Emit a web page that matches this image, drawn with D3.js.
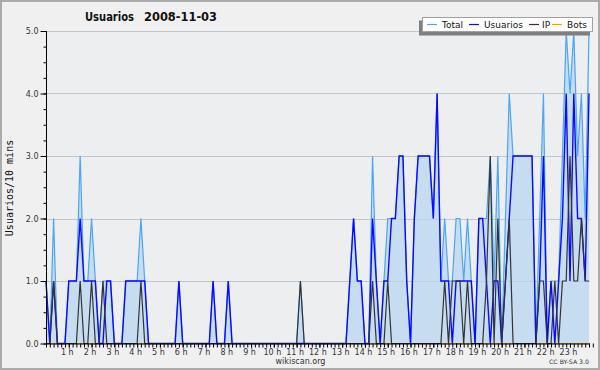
<!DOCTYPE html>
<html><head><meta charset="utf-8">
<script src="https://cdn.jsdelivr.net/npm/d3@7"></script>
<style>body{margin:0;background:#f0f0f0}svg{display:block}</style>
</head><body><svg id="c" width="600" height="370"></svg>
<script>
// 10-minute intervals, 144 per day
const total = [
 1,0,2,0,0,0,1,1,1,3,1,1,
 2,1,0,1,1,1,0,0,0,1,1,1,
 1,2,1,0,0,0,0,0,0,0,0,1,
 0,0,0,0,0,0,0,0,1,0,0,0,
 1,0,0,0,0,0,0,0,0,0,0,0,
 0,0,0,0,0,0,0,1,0,0,0,0,
 0,0,0,0,0,0,0,0,1,2,1,1,
 0,0,3,1,0,1,2,2,2,3,3,1,
 0,2,3,3,3,3,2,4,1,2,1,1,
 2,2,1,2,1,0,2,2,2,3,1,3,
 0,2,4,3,3,3,3,3,3,0,2,4,
 0,1,1,1,3,5,4,5,3,4,2,5];
const usuarios = [
 1,0,1,0,0,0,1,1,1,2,1,1,
 1,1,0,0,1,1,0,0,0,1,1,1,
 1,1,1,0,0,0,0,0,0,0,0,1,
 0,0,0,0,0,0,0,0,1,0,0,0,
 1,0,0,0,0,0,0,0,0,0,0,0,
 0,0,0,0,0,0,0,0,0,0,0,0,
 0,0,0,0,0,0,0,0,1,2,1,1,
 0,0,2,1,0,1,1,2,2,3,3,1,
 0,2,3,3,3,3,2,4,1,1,1,0,
 1,1,1,1,1,0,2,2,1,0,1,1,
 0,1,2,3,3,3,3,3,3,0,1,3,
 0,1,0,1,2,4,1,4,2,2,1,4];
const ip = [
 0,0,1,0,0,0,0,0,0,1,0,0,
 1,0,0,1,0,0,0,0,0,0,0,0,
 0,1,0,0,0,0,0,0,0,0,0,0,
 0,0,0,0,0,0,0,0,0,0,0,0,
 0,0,0,0,0,0,0,0,0,0,0,0,
 0,0,0,0,0,0,0,1,0,0,0,0,
 0,0,0,0,0,0,0,0,0,0,0,0,
 0,0,1,0,0,0,1,0,0,0,0,0,
 0,0,0,0,0,0,0,0,0,1,0,1,
 1,1,0,1,0,0,0,0,1,3,0,2,
 0,1,2,0,0,0,0,0,0,0,1,1,
 0,0,1,0,1,1,3,1,1,2,1,1];
const bots = [
 0,0,0,0,0,0,0,0,0,0,0,0, 0,0,0,0,0,0,0,0,0,0,0,0,
 0,0,0,0,0,0,0,0,0,0,0,0, 0,0,0,0,0,0,0,0,0,0,0,0,
 0,0,0,0,0,0,0,0,0,0,0,0, 0,0,0,0,0,0,0,0,0,0,0,0,
 0,0,0,0,0,0,0,0,0,0,0,0, 0,0,0,0,0,0,0,0,0,0,0,0,
 0,0,0,0,0,0,0,0,0,0,0,0, 0,0,0,0,0,0,0,0,0,0,0,0,
 0,0,0,0,0,0,0,0,0,0,0,0, 0,0,0,0,0,0,0,0,0,0,0,0];
const hourLabels = ["1 h","2 h","3 h","4 h","5 h","6 h","7 h","8 h","9 h","10 h","11 h","12 h",
 "13 h","14 h","15 h","16 h","17 h","18 h","19 h","20 h","21 h","22 h","23 h"];
const yTicks = [0,1,2,3,4,5];
const seriesNames = ["Total","Usuarios","IP","Bots"];
const titleText = "Usuarios", dateText = "2008-11-03";

const svg = d3.select("#c");
const W = 600, H = 370;
const L = 46, R = 589, T = 31, B = 343.5;
const x = d3.scaleLinear().domain([0, 143]).range([L, R]);
const y = d3.scaleLinear().domain([0, 5]).range([B, T]);
const sans = "'DejaVu Sans', Verdana, sans-serif";

svg.append("rect").attr("x",1).attr("y",1).attr("width",W-2).attr("height",H-2)
  .attr("fill","#f0f0f0").attr("stroke","#ababab").attr("stroke-width",2);
svg.append("rect").attr("x",L).attr("y",T).attr("width",590-L).attr("height",B-T).attr("fill","#eceef0");

// grid
svg.append("g").selectAll("line").data(yTicks.filter(d=>d>0)).join("line")
  .attr("x1",L).attr("x2",590).attr("y1",d=>Math.round(y(d))+0.5).attr("y2",d=>Math.round(y(d))+0.5)
  .attr("stroke","#c8c8c8").attr("stroke-width",1);

const idx = d3.range(total.length);
// area under total
svg.append("path").datum(idx)
  .attr("d", d3.area().x(i=>x(i)).y0(B).y1(i=>y(total[i])))
  .attr("fill","#c6ddf1");
// grid over fill (faint)
svg.append("g").selectAll("line").data(yTicks.filter(d=>d>0)).join("line")
  .attr("x1",L).attr("x2",590).attr("y1",d=>Math.round(y(d))+0.5).attr("y2",d=>Math.round(y(d))+0.5)
  .attr("stroke","#b9c6d2").attr("stroke-width",1).attr("opacity",0.5);

const colors = ["#4ca5f5","#0a0aff","#333333","#ff9900"];
const data = [total, usuarios, ip, bots];
const lineGen = arr => d3.line().x(i=>x(i)).y(i=>y(arr[i]))(idx);
[3,0,1,2].forEach(k=>{
  svg.append("path").attr("d", lineGen(data[k])).attr("fill","none")
    .attr("stroke",colors[k]).attr("stroke-width", k===1?1.4:1.2)
    .attr("stroke-linejoin","miter");
});

// Y axis
const yMinor = d3.range(0, 21).map(d=>d/4);
const yAxMinor = svg.append("g").attr("transform",`translate(${L+0.5},0)`)
  .call(d3.axisLeft(y).tickValues(yMinor).tickSize(3).tickFormat(""));
const yAx = svg.append("g").attr("transform",`translate(${L+0.5},0)`)
  .call(d3.axisLeft(y).tickValues(yTicks).tickSize(6).tickPadding(2).tickFormat(d3.format(".1f")));
[yAxMinor,yAx].forEach(g=>{g.selectAll("line").attr("stroke","#000");g.select(".domain").attr("stroke","#000").attr("d",`M0,${B}V${T}`);});
yAx.selectAll("text").attr("font-family",sans).attr("font-size",8).attr("fill","#333");

// X axis
const xMinor = d3.range(0, 145);
const xs = d3.scaleLinear().domain([0,144]).range([L, L + 144*(R-L)/143]);
const xAxMinor = svg.append("g").attr("transform",`translate(0,${B})`)
  .call(d3.axisBottom(x).tickValues(xMinor).tickSize(4).tickFormat(""));
xAxMinor.select(".domain").attr("stroke","#000").attr("d",`M${L},0.5H590`);
xAxMinor.selectAll("line").attr("stroke","#000");
const hours = hourLabels.map((t,k)=>(k+1)*6);
const xAx = svg.append("g").attr("transform",`translate(0,${B})`)
  .call(d3.axisBottom(x).tickValues(hours).tickSize(4).tickPadding(2).tickFormat((d,k)=>hourLabels[k]));
xAx.select(".domain").remove();
xAx.selectAll("line").attr("stroke","#000");
xAx.selectAll("text").attr("font-family",sans).attr("font-size",8).attr("fill","#333").attr("dx",-2);

// titles
svg.append("text").attr("x",85).attr("y",21).attr("font-family",sans).attr("font-weight","bold")
  .attr("font-size",12).attr("fill","#111").attr("textLength",49).attr("lengthAdjust","spacingAndGlyphs").text(titleText);
svg.append("text").attr("x",144).attr("y",21).attr("font-family",sans).attr("font-weight","bold")
  .attr("font-size",12).attr("fill","#111").attr("textLength",73).attr("lengthAdjust","spacingAndGlyphs").text(dateText);
svg.append("text").attr("transform","translate(13,188) rotate(-90)").attr("text-anchor","middle")
  .attr("font-family","'DejaVu Sans Mono', monospace").attr("font-size",10).attr("fill","#111").text("Usuarios/10 mins");
svg.append("text").attr("x",300.5).attr("y",364).attr("text-anchor","middle")
  .attr("font-family",sans).attr("font-size",8).attr("fill","#333").text("wikiscan.org");
svg.append("text").attr("x",549).attr("y",364)
  .attr("font-family",sans).attr("font-size",6).attr("fill","#333").attr("textLength",40).attr("lengthAdjust","spacingAndGlyphs").text("CC BY-SA 3.0");

// legend
const lg = svg.append("g");
lg.append("rect").attr("x",419).attr("y",20.5).attr("width",171).attr("height",15).attr("fill","#7f7f7f");
lg.append("rect").attr("x",422.5).attr("y",17.5).attr("width",170).attr("height",14).attr("fill","#fff").attr("stroke","#a0a0a0");
const lgX = [{l:427,t:442},{l:469,t:484},{l:529,t:542},{l:552,t:567}];
seriesNames.forEach((n,k)=>{
  lg.append("line").attr("x1",lgX[k].l).attr("x2",lgX[k].l+10).attr("y1",24.5).attr("y2",24.5)
    .attr("stroke",colors[k]).attr("stroke-width",1.2);
  lg.append("text").attr("x",lgX[k].t).attr("y",28).attr("font-family",sans).attr("font-size",9)
    .attr("fill","#111").text(n);
});
</script></body></html>
